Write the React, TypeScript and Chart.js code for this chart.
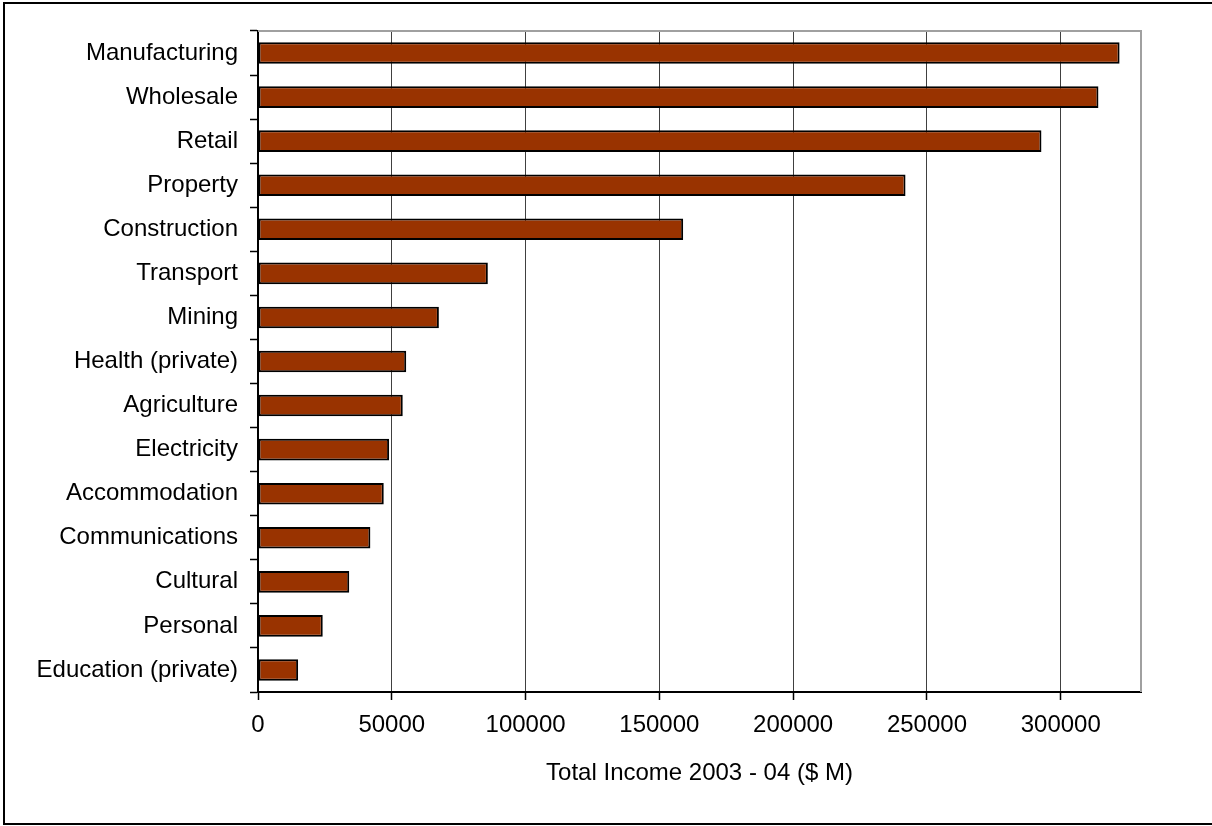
import React, { useEffect, useRef } from "react";
import { Chart, registerables } from "chart.js";

Chart.register(...registerables);

const categories: string[] = [
  "Manufacturing",
  "Wholesale",
  "Retail",
  "Property",
  "Construction",
  "Transport",
  "Mining",
  "Health (private)",
  "Agriculture",
  "Electricity",
  "Accommodation",
  "Communications",
  "Cultural",
  "Personal",
  "Education (private)",
];

const totalIncome: number[] = [
  322000, 314100, 292800, 242000, 158900, 85900, 67600, 55400, 54100, 49000,
  47000, 42000, 34100, 24200, 15000,
];

const xMin = 0;
const xMax = 330000;
const xTicks: number[] = [0, 50000, 100000, 150000, 200000, 250000, 300000];
const xTitle = "Total Income 2003 - 04 ($ M)";

const framePlugin = {
  id: "frame",
  afterDraw(chart: any) {
    const { ctx, chartArea } = chart;
    ctx.save();
    ctx.strokeStyle = "#a0a0a0";
    ctx.lineWidth = 2;
    ctx.beginPath();
    ctx.moveTo(chartArea.left, chartArea.top);
    ctx.lineTo(chartArea.right, chartArea.top);
    ctx.lineTo(chartArea.right, chartArea.bottom);
    ctx.stroke();
    ctx.strokeStyle = "#000";
    ctx.lineWidth = 2;
    ctx.beginPath();
    ctx.moveTo(1220, 3);
    ctx.lineTo(4, 3);
    ctx.lineTo(4, 824);
    ctx.lineTo(1220, 824);
    ctx.stroke();
    ctx.restore();
  },
};

export default function App() {
  const ref = useRef<HTMLCanvasElement | null>(null);

  useEffect(() => {
    if (!ref.current) return;
    Chart.defaults.font.family = "'Liberation Sans', Arial, sans-serif";
    Chart.defaults.font.size = 24;
    Chart.defaults.color = "#000";
    const chart = new Chart(ref.current, {
      type: "bar",
      data: {
        labels: categories,
        datasets: [
          {
            data: totalIncome,
            backgroundColor: "#993300",
            borderColor: "#000",
            borderWidth: 2,
            borderSkipped: false,
            barPercentage: 0.49,
            categoryPercentage: 1,
          },
        ],
      },
      options: {
        indexAxis: "y",
        responsive: false,
        animation: false,
        layout: { padding: { left: 0, right: 71, top: 31, bottom: 0 } },
        plugins: {
          legend: { display: false },
          tooltip: { enabled: false },
        },
        scales: {
          x: {
            type: "linear",
            min: xMin,
            max: xMax,
            afterFit: (scale: any) => {
              scale.height = 134;
            },
            afterBuildTicks: (scale: any) => {
              scale.ticks = xTicks.map((v) => ({ value: v }));
            },
            ticks: {
              padding: 11,
              maxRotation: 0,
              autoSkip: false,
              callback: (v: any) => String(v),
              font: { size: 24 },
            },
            grid: {
              color: "#404040",
              lineWidth: 1,
              drawTicks: true,
              tickLength: 8,
              tickColor: "#000",
              tickWidth: 1.5,
            },
            border: { color: "#000", width: 2 },
            title: {
              display: true,
              text: xTitle,
              font: { size: 24 },
              padding: { top: 0, bottom: 38 },
            },
          },
          y: {
            type: "category",
            afterFit: (scale: any) => {
              scale.width = 258;
            },
            ticks: { padding: 12, autoSkip: false, font: { size: 24 } },
            grid: {
              drawOnChartArea: false,
              drawTicks: true,
              tickLength: 8,
              tickColor: "#000",
              tickWidth: 1.5,
              offset: true,
            },
            border: { color: "#000", width: 2 },
          },
        },
      },
      plugins: [framePlugin],
    });
    return () => chart.destroy();
  }, []);

  return (
    <div style={{ position: "absolute", left: 0, top: 0, width: 1212, height: 826, background: "#fff" }}>
      <canvas ref={ref} width={1212} height={826} style={{ display: "block" }} />
    </div>
  );
}
